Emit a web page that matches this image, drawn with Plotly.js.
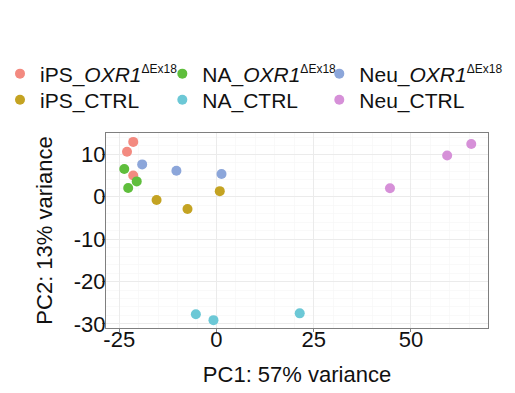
<!DOCTYPE html>
<html><head><meta charset="utf-8">
<script src="https://cdn.plot.ly/plotly-3.0.1.min.js"></script>
<style>html,body{margin:0;padding:0;background:#fff}#chart{width:515px;height:393px}</style>
</head><body><div id="chart"></div>
<script>
const sup = "<sup><span style=\"font-size:12px\">ΔEx18</span></sup>";
const groupNames = ["iPS_<i>OXR1</i>" + sup, "NA_<i>OXR1</i>" + sup, "Neu_<i>OXR1</i>" + sup, "iPS_CTRL", "NA_CTRL", "Neu_CTRL"];
const groupColors = ["#F38A80", "#5FBE3C", "#8CA6DA", "#C4A322", "#6CC8D6", "#D690D8"];
const pc1 = [
  [-21.4, -23.0, -21.4],
  [-23.7, -22.7, -20.5],
  [-19.1, -10.3, 1.3],
  [-15.4, -7.45, 0.85],
  [-5.3, -0.77, 21.4],
  [44.6, 59.3, 65.5]
];
const pc2 = [
  [12.9, 10.6, 5.0],
  [6.5, 2.05, 3.6],
  [7.6, 6.1, 5.35],
  [-0.8, -2.9, 1.3],
  [-27.7, -29.1, -27.5],
  [2.0, 9.7, 12.4]
];
const xTicks = [-25, 0, 25, 50];
const yTicks = [-30, -20, -10, 0, 10];

const font = "Liberation Sans, Arial, sans-serif";
const fs = 22;
const legendIds = ["legend", "legend2", "legend3", "legend4", "legend5", "legend6"];
const traces = groupNames.map((n, i) => ({
  type: "scatter", mode: "markers", name: n,
  legend: legendIds[i],
  x: pc1[i], y: pc2[i],
  marker: {color: groupColors[i], size: 10}
}));
const axisCommon = {
  automargin: false,
  showline: true, linecolor: "#7f7f7f", linewidth: 1, mirror: true,
  ticks: "outside", ticklen: 3, tickcolor: "#7f7f7f",
  gridcolor: "#ebebeb", gridwidth: 1, zeroline: false,
  tickfont: {family: font, size: fs, color: "#111"},
  minor: {showgrid: true, gridcolor: "#f5f5f5", gridwidth: 0.6}
};
const colX = [-0.025, 0.3152, 0.62];
const rowY = [0.8117, 0.7455];
function mkLegend(col, row) {
  return {
    orientation: "h", xref: "container", yref: "container",
    x: colX[col], xanchor: "left", y: rowY[row], yanchor: "middle",
    font: {family: font, size: 21, color: "#111"},
    itemwidth: 30, bgcolor: "rgba(0,0,0,0)"
  };
}
const layout = {
  width: 515, height: 393,
  margin: {l: 106, r: 27, t: 133, b: 65},
  paper_bgcolor: "#fff", plot_bgcolor: "#fff",
  font: {family: font, color: "#111"},
  showlegend: true,
  xaxis: Object.assign({}, axisCommon, {
    range: [-28.4, 69.8], tickvals: xTicks, ticktext: xTicks.map(String),
    ticklabelstandoff: -11,
    title: {text: "PC1: 57% variance", font: {family: font, size: fs, color: "#111"}, standoff: 15}
  }),
  yaxis: Object.assign({}, axisCommon, {
    range: [-30.95, 15.0], tickvals: yTicks, ticktext: yTicks.map(String),
    ticklabelstandoff: -8,
    title: {text: "PC2: 13% variance", font: {family: font, size: fs, color: "#111"}, standoff: 15}
  })
};
legendIds.forEach((id, i) => { layout[id] = mkLegend(i % 3, Math.floor(i / 3)); });
Plotly.newPlot("chart", traces, layout, {displayModeBar: false, staticPlot: true});
</script></body></html>
